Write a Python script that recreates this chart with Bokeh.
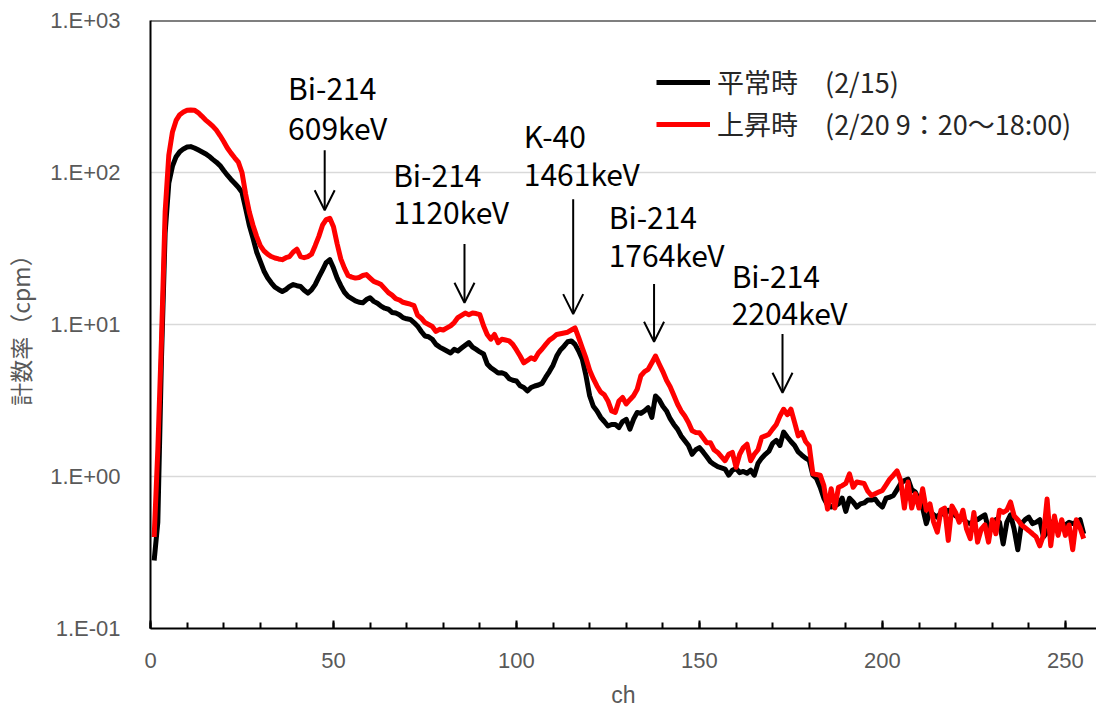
from bokeh.plotting import figure
from bokeh.models import (Range1d, FixedTicker, SingleIntervalTicker, Span, Arrow, OpenHead,
                          Legend, LegendItem, ColumnDataSource)
from bokeh.core.properties import value
from bokeh.embed import file_html
from bokeh.resources import INLINE

# ---------------- data ----------------
channels = list(range(1, 256))

normal_cpm = [
    0.28, 0.5, 6, 40, 85, 110, 127, 137, 143, 147,
    148, 145, 141, 137, 133, 128, 122, 117, 111, 103,
    96, 90, 85, 80, 74, 58, 45, 37, 30, 26,
    22.5, 20.3, 18.8, 17.6, 17.0, 16.5, 17.0, 17.8, 18.3, 18.0,
    17.8, 16.8, 16.1, 16.9, 18.3, 20.5, 22.8, 25.5, 26.7, 23.5,
    20.2, 18.0, 16.3, 15.3, 14.8, 14.3, 14.0, 13.9, 14.6, 15.0,
    14.2, 13.8, 13.2, 12.8, 12.6, 12.0, 11.9, 11.6, 11.1, 10.9,
    10.8, 10.3, 9.75, 9.0, 8.4, 8.3, 8.0, 7.4, 7.1, 6.9,
    6.7, 6.5, 6.86, 6.7, 7.0, 7.3, 7.6, 7.1, 6.86, 6.6,
    6.4, 5.5, 5.2, 5.0, 4.8, 4.82, 4.7, 4.4, 4.3, 4.25,
    3.95, 3.85, 3.65, 3.85, 3.94, 4.0, 4.1, 4.5, 4.9, 5.4,
    6.2, 6.8, 7.2, 7.7, 7.8, 7.4, 6.7, 5.9, 4.6, 3.4,
    2.9, 2.7, 2.45, 2.3, 2.15, 2.2, 2.2, 2.1, 2.3, 2.38,
    2.05, 2.38, 2.64, 2.6, 2.7, 2.84, 2.45, 3.39, 3.2, 2.9,
    2.7, 2.4, 2.2, 2.05, 1.85, 1.72, 1.6, 1.4, 1.5, 1.55,
    1.45, 1.35, 1.25, 1.2, 1.16, 1.14, 1.12, 1.02, 1.1, 1.13,
    1.06, 1.08, 1.05, 1.1, 1.02, 1.22, 1.32, 1.4, 1.47, 1.65,
    1.73, 1.6, 1.96, 1.82, 1.7, 1.6, 1.45, 1.38, 1.32, 1.28,
    1.02, 0.97, 0.85, 0.72, 0.65, 0.63, 0.64, 0.66, 0.72, 0.59,
    0.72, 0.68, 0.63, 0.66, 0.67, 0.7, 0.7, 0.71, 0.66, 0.63,
    0.72, 0.73, 0.75, 0.82, 0.9, 0.94, 0.96, 0.82, 0.79, 0.7,
    0.62, 0.49, 0.59, 0.56, 0.54, 0.58, 0.56, 0.6, 0.59, 0.55,
    0.54, 0.53, 0.5, 0.49, 0.51, 0.52, 0.54, 0.56, 0.45, 0.49,
    0.52, 0.5, 0.36, 0.5, 0.56, 0.45, 0.33, 0.49, 0.52, 0.54,
    0.49, 0.5, 0.52, 0.4, 0.43, 0.48, 0.52, 0.43, 0.48, 0.48,
    0.5, 0.49, 0.5, 0.52, 0.42,
]

elevated_cpm = [
    0.40, 1.5, 8, 55, 130, 185, 220, 240, 250, 257,
    258, 257, 248, 235, 222, 212, 202, 190, 175, 160,
    145, 134, 125, 117, 100, 72, 55, 45, 38, 33,
    30.5, 29, 28, 27.4, 27, 26.7, 27.5, 28, 30, 31.3,
    28, 27.5, 28, 29, 33, 38, 45, 49, 50, 44,
    34, 27, 23.5, 21, 20.5, 20.2, 20.4, 21, 21.3, 20.2,
    19.2, 18.8, 18.3, 17.2, 16.2, 15.6, 14.8, 14.5, 14.0, 13.8,
    13.6, 13.3, 11.5, 11.0, 10.3, 10.0, 9.7, 9.0, 9.3, 9.2,
    9.5, 9.8, 10.3, 11.1, 11.5, 11.9, 11.6, 11.9, 11.8, 11.6,
    9.8, 8.6, 8.0, 8.6, 7.6, 8.0, 7.9, 7.8, 7.4, 6.8,
    6.2, 5.6, 5.8, 6.04, 5.9, 6.5, 6.9, 7.4, 7.9, 8.2,
    8.6, 8.7, 8.8, 8.9, 9.2, 9.5, 8.2, 7.0, 6.0, 5.0,
    4.4, 3.94, 3.6, 3.45, 3.14, 2.7, 2.64, 3.14, 3.31, 3.0,
    3.2, 3.4, 3.75, 4.6, 4.9, 5.07, 5.6, 6.2, 5.5, 4.9,
    4.3, 3.9, 3.42, 3.0, 2.7, 2.5, 2.27, 2.0, 1.95, 1.94,
    1.8, 1.67, 1.67, 1.5, 1.44, 1.35, 1.27, 1.4, 1.44, 1.15,
    1.4, 1.55, 1.63, 1.27, 1.4, 1.5, 1.81, 1.85, 1.9, 2.05,
    2.2, 2.5, 2.77, 2.55, 2.77, 2.27, 1.85, 1.95, 1.7, 1.59,
    1.04, 1.03, 1.02, 0.87, 0.61, 0.83, 0.62, 0.85, 0.87, 0.9,
    1.04, 0.85, 0.92, 0.91, 0.9, 0.8, 0.75, 0.77, 0.79, 0.81,
    0.88, 0.96, 1.02, 1.09, 0.94, 0.62, 0.92, 0.62, 0.77, 0.62,
    0.83, 0.6, 0.66, 0.5, 0.43, 0.6, 0.62, 0.38, 0.64, 0.58,
    0.5, 0.6, 0.45, 0.39, 0.58, 0.37, 0.45, 0.48, 0.37, 0.52,
    0.42, 0.6, 0.58, 0.6, 0.68, 0.55, 0.52, 0.48, 0.46, 0.44,
    0.42, 0.40, 0.35, 0.41, 0.71, 0.35, 0.55, 0.41, 0.52, 0.41,
    0.48, 0.33, 0.52, 0.46, 0.39,
]

series_labels = ["平常時　(2/15)", "上昇時　(2/20 9：20～18:00)"]

y_tick_values = [0.1, 1, 10, 100, 1000]
y_tick_labels = ["1.E-01", "1.E+00", "1.E+01", "1.E+02", "1.E+03"]

# peak annotations: text lines (x = left edge in ch, y = cpm)
ann_text = ["Bi-214", "609keV", "Bi-214", "1120keV", "K-40", "1461keV",
            "Bi-214", "1764keV", "Bi-214", "2204keV"]
ann_x = [37.6, 37.6, 66.3, 66.3, 102.0, 102.0, 125.2, 125.2, 158.8, 158.8]
ann_y = [365, 200, 98, 55.5, 177, 99.5, 52, 29.3, 21.3, 12.1]

# arrows (ch, start cpm, tip cpm)
arrow_x = [47.6, 85.8, 115.5, 137.6, 172.7]
arrow_top = [140, 33.8, 66.8, 18.5, 8.67]
arrow_tip = [56.5, 13.9, 11.7, 7.7, 3.56]

# ---------------- figure ----------------
CJK = "Noto Sans CJK JP"
LAT = "Liberation Sans"
GRAY = "#595959"

p = figure(width=1096, height=710, y_axis_type="log",
           x_range=Range1d(0, 258.5), y_range=Range1d(0.1, 1000),
           output_backend="svg", toolbar_location=None,
           min_border_left=149, min_border_right=0,
           min_border_top=20, min_border_bottom=81)
p.outline_line_color = None
p.background_fill_color = "white"
p.border_fill_color = "white"

# grid
p.xgrid.grid_line_color = None
p.ygrid.grid_line_color = "#d9d9d9"
p.ygrid.grid_line_width = 1.5
p.ygrid.ticker = FixedTicker(ticks=y_tick_values)

# y axis
p.yaxis.ticker = FixedTicker(ticks=y_tick_values, minor_ticks=[])
p.yaxis.major_label_overrides = dict(zip(y_tick_values, y_tick_labels))
p.yaxis.major_tick_line_color = None
p.yaxis.minor_tick_line_color = None
p.yaxis.axis_line_color = "black"
p.yaxis.axis_line_width = 2
p.yaxis.major_label_text_font = LAT
p.yaxis.major_label_text_font_size = "22px"
p.yaxis.major_label_text_color = GRAY
p.yaxis.major_label_standoff = 24
p.yaxis.axis_label = "計数率（cpm）"
p.yaxis.axis_label_text_font = CJK
p.yaxis.axis_label_text_font_size = "23px"
p.yaxis.axis_label_text_font_style = "normal"
p.yaxis.axis_label_text_color = GRAY
p.yaxis.axis_label_standoff = 10

# x axis
p.xaxis.ticker = SingleIntervalTicker(interval=50, num_minor_ticks=5)
p.xaxis.axis_line_color = "black"
p.xaxis.axis_line_width = 2
p.xaxis.major_tick_in = 8
p.xaxis.major_tick_out = 0
p.xaxis.minor_tick_in = 6
p.xaxis.minor_tick_out = 0
p.xaxis.major_tick_line_color = "black"
p.xaxis.major_tick_line_width = 2
p.xaxis.minor_tick_line_color = "black"
p.xaxis.minor_tick_line_width = 2
p.xaxis.major_label_text_font = LAT
p.xaxis.major_label_text_font_size = "22px"
p.xaxis.major_label_text_color = GRAY
p.xaxis.major_label_standoff = 24
p.xaxis.axis_label = "ch"
p.xaxis.axis_label_text_font = LAT
p.xaxis.axis_label_text_font_size = "23px"
p.xaxis.axis_label_text_font_style = "normal"
p.xaxis.axis_label_text_color = GRAY
p.xaxis.axis_label_standoff = 11

# top border line
p.add_layout(Span(location=1000, dimension="width", line_color="black", line_width=2))

# series
r_normal = p.line(channels, normal_cpm, line_color="black", line_width=5, line_join="round")
r_elev = p.line(channels, elevated_cpm, line_color="#ff0000", line_width=5, line_join="round")

# annotations
src = ColumnDataSource(dict(x=ann_x, y=ann_y, t=ann_text))
p.text(x="x", y="y", text="t", source=src, text_font=value(CJK),
       text_font_size="30px", text_align="left", text_baseline="middle",
       text_color="black")

for ax, y0, y1 in zip(arrow_x, arrow_top, arrow_tip):
    p.add_layout(Arrow(x_start=ax, y_start=y0, x_end=ax, y_end=y1,
                       line_color="black", line_width=2,
                       end=OpenHead(size=20, line_color="black", line_width=2)))

# legend
legend = Legend(items=[LegendItem(label=series_labels[0], renderers=[r_normal]),
                       LegendItem(label=series_labels[1], renderers=[r_elev])],
                location=(506, 485), orientation="vertical",
                glyph_width=54, glyph_height=30, label_height=30,
                label_standoff=7, spacing=3, padding=0, margin=0,
                border_line_color=None, background_fill_alpha=0,
                label_text_font=CJK, label_text_font_size="27px",
                label_text_color="#262626")
p.add_layout(legend)

open("out.html", "w").write(file_html(p, INLINE))
